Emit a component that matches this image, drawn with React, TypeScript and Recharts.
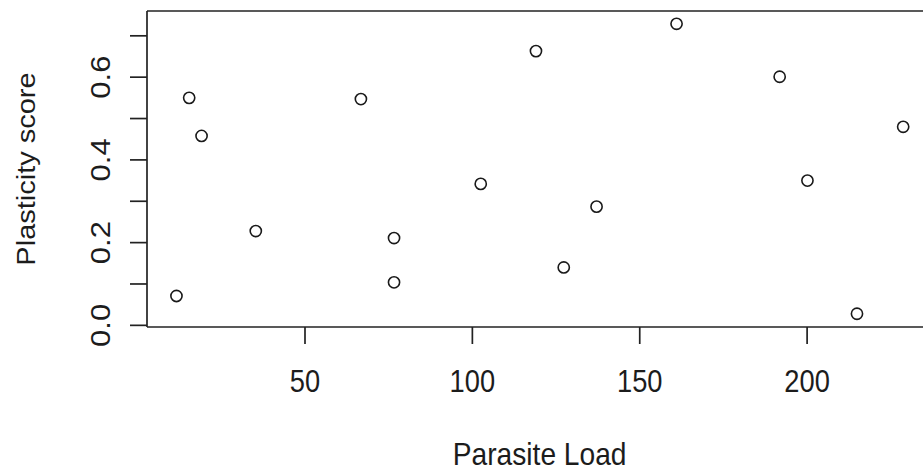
import { ScatterChart, Scatter, XAxis, YAxis, Label, ReferenceLine } from "recharts"

const parasiteLoad = [11.6, 15.4, 19.1, 35.3, 66.7, 76.6, 76.6, 102.5, 119.0, 127.3, 137.1, 161.0, 191.8, 200.1, 214.9, 228.7]
const plasticityScore = [0.071, 0.55, 0.458, 0.228, 0.547, 0.211, 0.104, 0.342, 0.663, 0.14, 0.287, 0.729, 0.601, 0.35, 0.028, 0.48]

const xTicks = [50, 100, 150, 200]
const yTicks = [0, 0.1, 0.2, 0.3, 0.4, 0.5, 0.6, 0.7]
// R drops every other label on the y axis because they would overlap
const yTickLabels: Record<string, string> = { "0": "0.0", "0.2": "0.2", "0.4": "0.4", "0.6": "0.6" }

const X_DOMAIN: [number, number] = [2.8, 237.4]
const Y_DOMAIN: [number, number] = [-0.004, 0.76]

const data = parasiteLoad.map((x, i) => ({ x, y: plasticityScore[i] }))

const FONT = "'Liberation Sans', Arial, sans-serif"
const SQUEEZE = 0.88
const INK = "#1c1c1c"
const LINE = { stroke: "#222", strokeWidth: 1.7 }

function XTick({ x, y, payload }: any) {
  return (
    <g transform={`translate(${x},${y + 46})`}>
      <text transform={`scale(${SQUEEZE},1)`} textAnchor="middle" fontFamily={FONT} fontSize={31} fill={INK}>
        {payload.value}
      </text>
    </g>
  )
}

function YTick({ x, y, payload }: any) {
  const label = yTickLabels[String(payload.value)]
  if (!label) return <g />
  return (
    <g transform={`translate(${x - 18},${y}) scale(${SQUEEZE},1) rotate(-90)`}>
      <text textAnchor="middle" fontFamily={FONT} fontSize={31} fill={INK}>
        {label}
      </text>
    </g>
  )
}

function XTitle({ viewBox }: any) {
  const cx = viewBox.x + viewBox.width / 2
  return (
    <g transform={`translate(${cx},${viewBox.y + 138})`}>
      <text transform={`scale(${SQUEEZE},1)`} textAnchor="middle" fontFamily={FONT} fontSize={32} fill={INK}>
        Parasite Load
      </text>
    </g>
  )
}

function YTitle({ viewBox }: any) {
  const cy = viewBox.y + viewBox.height / 2
  return (
    <g transform={`translate(35,${cy}) scale(${SQUEEZE},1) rotate(-90)`}>
      <text textAnchor="middle" fontFamily={FONT} fontSize={29} fill={INK}>
        Plasticity score
      </text>
    </g>
  )
}

function OpenCircle({ cx, cy }: any) {
  return <circle cx={cx} cy={cy} r={5.6} fill="none" stroke="#1a1a1a" strokeWidth={1.6} />
}

export default function App() {
  return (
    <div style={{ position: "absolute", left: 0, top: 0, width: 923, height: 470, background: "#fff" }}>
      <ScatterChart width={923} height={470} margin={{ top: 11, right: -9.3, bottom: 0, left: 0 }}>
        <XAxis
          type="number"
          dataKey="x"
          domain={X_DOMAIN}
          allowDataOverflow
          ticks={xTicks}
          interval={0}
          height={143}
          tickSize={17}
          tickLine={LINE}
          axisLine={LINE}
          tick={<XTick />}
        >
          <Label content={<XTitle />} />
        </XAxis>
        <YAxis
          type="number"
          dataKey="y"
          domain={Y_DOMAIN}
          allowDataOverflow
          ticks={yTicks}
          interval={0}
          width={147}
          tickSize={17}
          tickLine={LINE}
          axisLine={LINE}
          tick={<YTick />}
        >
          <Label content={<YTitle />} />
        </YAxis>
        {/* top edge of R's plot box */}
        <ReferenceLine y={Y_DOMAIN[1]} ifOverflow="visible" {...LINE} />
        <Scatter data={data} shape={<OpenCircle />} isAnimationActive={false} />
      </ScatterChart>
    </div>
  )
}
